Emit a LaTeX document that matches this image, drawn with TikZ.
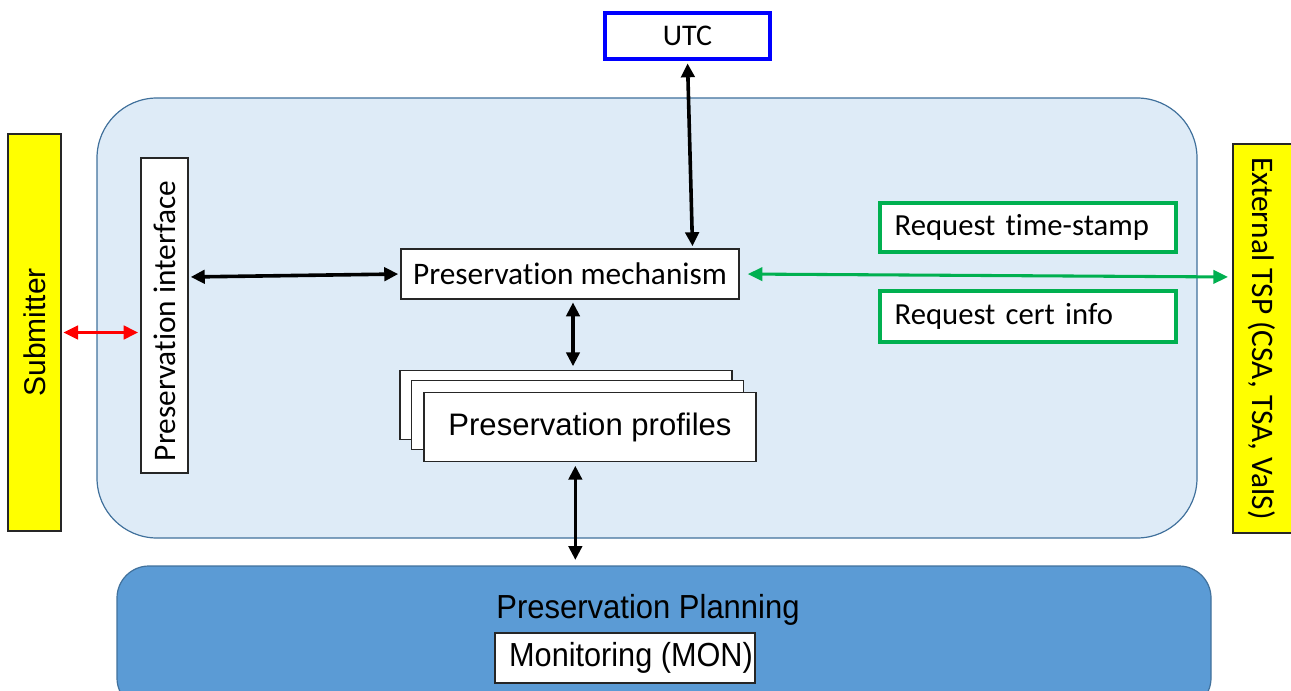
\documentclass[tikz,border=0pt]{standalone}
\usepackage{fontspec}
\setmainfont{Carlito}[Ligatures=NoCommon]
\newfontfamily\arialf{Liberation Sans}
\usetikzlibrary{arrows.meta,calc}
\definecolor{lightfill}{HTML}{DEEBF7}
\definecolor{edgeblue}{HTML}{41719C}
\definecolor{planfill}{HTML}{5B9BD5}
\definecolor{tspyellow}{HTML}{FFFF00}
\definecolor{greenline}{HTML}{00B050}
\tikzset{
  plainbox/.style={draw=black!85, line width=1.1pt, fill=white, inner sep=0pt},
  yellowbox/.style={draw=black!85, line width=1.5pt, fill=tspyellow, inner sep=0pt},
  reqbox/.style={draw=greenline, line width=3pt, fill=white, inner xsep=11pt, inner ysep=0pt,
     text width=200pt, align=left, minimum width=222pt, font=\fontsize{23}{26}\selectfont},
  blackarrow/.style={line width=2.7pt, black, {Triangle[length=10.5pt,width=10pt]}-{Triangle[length=10.5pt,width=10pt]}},
  redarrow/.style={line width=2.6pt, red, {Triangle[length=11pt,width=10pt]}-{Triangle[length=11pt,width=10pt]}},
  greenarrow/.style={line width=2.3pt, greenline, {Triangle[length=11pt,width=10pt]}-{Triangle[length=11pt,width=10pt]}},
  bigtext/.style={font=\fontsize{23.5}{27}\selectfont},
}
\begin{document}
\begin{tikzpicture}[x=0.75pt,y=-0.75pt]
\useasboundingbox (0,0) rectangle (1291,691);
\begin{scope}
\clip (0,0) rectangle (1291,691);
% main container
\draw[fill=lightfill, draw=edgeblue, line width=0.9pt, rounded corners=45pt] (97,98) rectangle (1197,538);
% planning
\draw[fill=planfill, draw=edgeblue, line width=0.9pt, rounded corners=24pt] (117,566) rectangle (1211,710);
\node[font=\arialf\fontsize{25}{28}\selectfont] (plantxt) at (648,610) {\scalebox{0.93}[1]{Preservation Planning}};
\node[plainbox, minimum width=195pt, minimum height=37.5pt] (mon) at (625,658) {};
\node[font=\arialf\fontsize{25}{28}\selectfont] (montxt) at (631,658) {\scalebox{0.92}[1]{Monitoring (MON)}};
% UTC
\node[draw=blue, line width=3pt, fill=white, minimum width=124pt, minimum height=35pt, inner sep=0pt, font=\fontsize{22.5}{26}\selectfont] (utc) at (687.5,36) {UTC};
% Submitter
\node[yellowbox, minimum width=39.75pt, minimum height=297.75pt] (sub) at (34.5,332.5) {};
\node[rotate=90, font=\arialf\fontsize{22.5}{26}\selectfont] (subtxt) at (34.5,332.5) {Submitter};
% External TSP
\node[yellowbox, minimum width=51pt, minimum height=291.75pt] (tsp) at (1267,338.5) {};
\node[rotate=-90, bigtext] (tsptxt) at (1262,338.5) {External TSP (CSA, TSA, ValS)};
% Preservation interface
\node[plainbox, minimum width=35.25pt, minimum height=236.25pt] (iface) at (164.5,315.5) {};
\node[rotate=90, bigtext] (ifacetxt) at (164.5,321) {Preservation interface};
% Preservation mechanism
\node[plainbox, minimum width=253.5pt, minimum height=37.5pt, bigtext] (mech) at (570,274) {Preservation mechanism};
% profiles stack
\node[plainbox, minimum width=249pt, minimum height=52pt] (prof1) at (566,405) {};
\node[plainbox, minimum width=249pt, minimum height=52pt] (prof2) at (577.5,415) {};
\node[plainbox, minimum width=249pt, minimum height=52pt, font=\arialf\fontsize{23.3}{27}\selectfont] (prof3) at (590,427) {Preservation profiles};
% request boxes
\node[reqbox, minimum height=37pt] (reqts) at (1028,227.5) {Request time-stamp};
\node[reqbox, minimum height=38.5pt] (reqci) at (1028,316.5) {Request cert info};
% connectors
\coordinate (utcend) at ($(mech.north west)!0.861!(mech.north east)$);
\draw[blackarrow, shorten <=1.5pt, shorten >=1.5pt] (utc.south) -- (utcend);
\draw[blackarrow, shorten <=1.5pt, shorten >=1.5pt] ([yshift=-2.25pt]iface.east |- mech.west) -- (mech.west);
\draw[redarrow, shorten <=1pt, shorten >=1.5pt] (sub.east) -- (sub.east -| iface.west);
\draw[blackarrow, shorten <=2pt, shorten >=2.5pt] ([xshift=2.25pt]mech.south) -- ([xshift=2.25pt]mech.south |- prof1.north);
\draw[blackarrow, shorten <=2.5pt, shorten >=4.5pt] ([xshift=-11pt]prof3.south) -- ([xshift=-11pt]prof3.south |- 0,566);
\draw[greenarrow, shorten <=6pt, shorten >=3pt] (mech.east) -- ([yshift=-2.25pt]tsp.west |- mech.east);
\end{scope}
\end{tikzpicture}
\end{document}
